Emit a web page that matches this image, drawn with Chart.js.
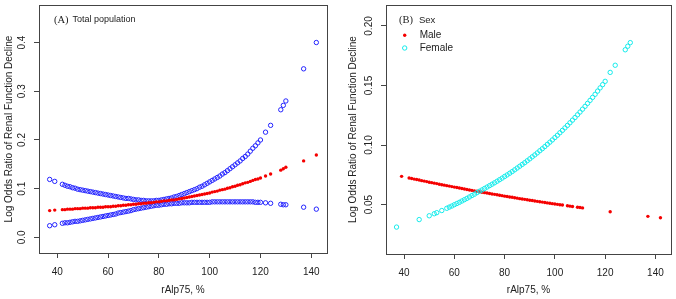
<!DOCTYPE html>
<html><head><meta charset="utf-8">
<script src="https://cdn.jsdelivr.net/npm/chart.js@4.4.1/dist/chart.umd.min.js"></script>
<style>
html,body{margin:0;padding:0;background:#fff;}
#wrap{display:flex;width:676px;height:299px;}
canvas{display:block;}
</style></head><body>
<div id="wrap"><canvas id="cA" width="338" height="299"></canvas><canvas id="cB" width="338" height="299"></canvas></div>
<script>
// ---------- data ----------
const xTicks = [40, 60, 80, 100, 120, 140];
const yTicksA = [0.0, 0.1, 0.2, 0.3, 0.4];
const yTickLabelsA = ['0.0', '0.1', '0.2', '0.3', '0.4'];
const yTicksB = [0.05, 0.10, 0.15, 0.20];
const yTickLabelsB = ['0.05', '0.10', '0.15', '0.20'];

const totalX = [37, 39,
  42, 43, 44, 45, 46, 47, 48, 49, 50, 51,
  52, 53, 54, 55, 56, 57, 58, 59, 60, 61,
  62, 63, 64, 65, 66, 67, 68, 69, 70, 71,
  72, 73, 74, 75, 76, 77, 78, 79, 80, 81,
  82, 83, 84, 85, 86, 87, 88, 89, 90, 91,
  92, 93, 94, 95, 96, 97, 98, 99, 100, 101,
  102, 103, 104, 105, 106, 107, 108, 109, 110, 111,
  112, 113, 114, 115, 116, 117, 118, 119, 120,
  122, 124, 128, 129, 130, 137, 142];
const totalEst = [0.055, 0.056,
  0.057, 0.057, 0.058, 0.058, 0.058, 0.059, 0.059, 0.059, 0.060, 0.060,
  0.060, 0.061, 0.061, 0.061, 0.062, 0.062, 0.062, 0.063, 0.063, 0.063,
  0.064, 0.064, 0.065, 0.065, 0.066, 0.066, 0.067, 0.067, 0.068, 0.068,
  0.069, 0.069, 0.070, 0.070, 0.071, 0.071, 0.072, 0.073, 0.073, 0.074,
  0.075, 0.075, 0.076, 0.077, 0.077, 0.078, 0.079, 0.080, 0.081, 0.082,
  0.083, 0.084, 0.085, 0.086, 0.087, 0.088, 0.089, 0.090, 0.091, 0.093,
  0.094, 0.095, 0.097, 0.098, 0.099, 0.101, 0.102, 0.104, 0.105, 0.107,
  0.108, 0.110, 0.112, 0.113, 0.115, 0.117, 0.119, 0.120, 0.122,
  0.126, 0.130, 0.138, 0.141, 0.144, 0.157, 0.169];
const totalLower = [0.024, 0.026,
  0.029, 0.030, 0.030, 0.031, 0.032, 0.033, 0.033, 0.034, 0.035, 0.036,
  0.037, 0.038, 0.039, 0.040, 0.041, 0.042, 0.043, 0.044, 0.045, 0.046,
  0.047, 0.048, 0.050, 0.051, 0.052, 0.053, 0.054, 0.055, 0.057, 0.058,
  0.059, 0.060, 0.061, 0.062, 0.063, 0.064, 0.065, 0.066, 0.066, 0.067,
  0.068, 0.068, 0.069, 0.069, 0.070, 0.070, 0.070, 0.071, 0.071, 0.071,
  0.071, 0.072, 0.072, 0.072, 0.072, 0.072, 0.072, 0.072, 0.072, 0.073,
  0.073, 0.073, 0.073, 0.073, 0.073, 0.073, 0.073, 0.073, 0.073, 0.073,
  0.073, 0.073, 0.073, 0.073, 0.073, 0.073, 0.072, 0.072, 0.072,
  0.071, 0.070, 0.068, 0.067, 0.067, 0.062, 0.058];
const totalUpper = [0.119, 0.115,
  0.109, 0.107, 0.105, 0.104, 0.102, 0.101, 0.099, 0.098, 0.097, 0.096,
  0.095, 0.094, 0.093, 0.092, 0.091, 0.090, 0.089, 0.088, 0.087, 0.086,
  0.085, 0.084, 0.083, 0.082, 0.081, 0.080, 0.080, 0.079, 0.078, 0.077,
  0.077, 0.076, 0.076, 0.075, 0.075, 0.075, 0.075, 0.076, 0.076, 0.077,
  0.078, 0.079, 0.080, 0.081, 0.083, 0.084, 0.086, 0.088, 0.090, 0.092,
  0.094, 0.096, 0.098, 0.100, 0.103, 0.105, 0.108, 0.111, 0.114, 0.117,
  0.120, 0.123, 0.126, 0.130, 0.133, 0.137, 0.141, 0.145, 0.149, 0.153,
  0.157, 0.162, 0.166, 0.171, 0.177, 0.183, 0.188, 0.194, 0.200,
  0.216, 0.230, 0.262, 0.271, 0.280, 0.346, 0.400];

const maleX = [39,
  42, 43, 44, 45, 46, 47, 48, 49, 50, 51,
  52, 53, 54, 55, 56, 57, 58, 59, 60, 61,
  62, 63, 64, 65, 66, 67, 68, 69, 70, 71,
  72, 73, 74, 75, 76, 77, 78, 79, 80, 81,
  82, 83, 84, 85, 86, 87, 88, 89, 90, 91,
  92, 93, 94, 95, 96, 97, 98, 99, 100, 101,
  102, 103,
  105, 106, 107, 109, 110, 111, 122, 137, 142];
const maleY = [0.0737,
  0.0723, 0.0719, 0.0714, 0.0710, 0.0706, 0.0701, 0.0697, 0.0693, 0.0688, 0.0684,
  0.0680, 0.0676, 0.0671, 0.0667, 0.0663, 0.0659, 0.0655, 0.0651, 0.0647, 0.0643,
  0.0639, 0.0635, 0.0631, 0.0627, 0.0623, 0.0619, 0.0615, 0.0612, 0.0608, 0.0604,
  0.0600, 0.0597, 0.0593, 0.0589, 0.0586, 0.0582, 0.0578, 0.0575, 0.0571, 0.0568,
  0.0564, 0.0561, 0.0557, 0.0554, 0.0550, 0.0547, 0.0544, 0.0540, 0.0537, 0.0534,
  0.0530, 0.0527, 0.0524, 0.0521, 0.0517, 0.0514, 0.0511, 0.0508, 0.0505, 0.0502,
  0.0499, 0.0496,
  0.0490, 0.0487, 0.0484, 0.0478, 0.0475, 0.0472, 0.0440, 0.0401, 0.0389];

const femaleX = [37, 46, 50, 52, 53, 55, 57, 58, 59,
  60, 61, 62, 63, 64, 65, 66, 67, 68, 69,
  70, 71, 72, 73, 74, 75, 76, 77, 78, 79,
  80, 81, 82, 83, 84, 85, 86, 87, 88, 89,
  90, 91, 92, 93, 94, 95, 96, 97, 98, 99,
  100, 101, 102, 103, 104, 105, 106, 107, 108, 109,
  110, 111, 112, 113, 114, 115, 116, 117, 118, 119,
  120, 122, 124, 128, 129, 130];
const femaleY = [0.0311, 0.0374, 0.0406, 0.0423, 0.0432, 0.0450, 0.0469, 0.0479, 0.0488,
  0.0499, 0.0509, 0.0519, 0.0530, 0.0541, 0.0552, 0.0564, 0.0576, 0.0587, 0.0600,
  0.0612, 0.0623, 0.0635, 0.0647, 0.0659, 0.0671, 0.0683, 0.0696, 0.0709, 0.0722,
  0.0736, 0.0749, 0.0763, 0.0777, 0.0792, 0.0807, 0.0822, 0.0837, 0.0852, 0.0868,
  0.0884, 0.0901, 0.0917, 0.0934, 0.0952, 0.0969, 0.0987, 0.1006, 0.1024, 0.1043,
  0.1063, 0.1082, 0.1103, 0.1123, 0.1144, 0.1165, 0.1187, 0.1209, 0.1231, 0.1254,
  0.1277, 0.1301, 0.1325, 0.1350, 0.1375, 0.1400, 0.1426, 0.1453, 0.1480, 0.1507,
  0.1535, 0.1610, 0.1670, 0.1800, 0.1830, 0.1860];

// ---------- styling ----------
const SANS = '"Liberation Sans", Arial, Helvetica, sans-serif';
const SERIF = '"Liberation Serif", "Times New Roman", serif';
const INK = '#222';
const AXIS = '#444';
const BLUE = 'rgb(35,35,255)';
const RED = 'rgb(245,0,0)';
const CYAN = 'rgb(20,235,235)';

const pts = (xs, ys) => xs.map((x, i) => ({ x: x, y: ys[i] }));

const boxPlugin = {
  id: 'box',
  afterDraw(chart) {
    const a = chart.chartArea, ctx = chart.ctx;
    ctx.save();
    ctx.strokeStyle = AXIS; ctx.lineWidth = 1;
    ctx.strokeRect(Math.round(a.left) + 0.5, Math.round(a.top) + 0.5,
      Math.round(a.right - a.left), Math.round(a.bottom - a.top));
    ctx.restore();
  }
};

const rotYPlugin = {
  id: 'rotY',
  afterDraw(chart, args, opts) {
    const s = chart.scales.y, ctx = chart.ctx;
    ctx.save();
    ctx.font = '10px ' + SANS;
    ctx.fillStyle = INK;
    ctx.textAlign = 'center'; ctx.textBaseline = 'middle';
    opts.values.forEach((v, i) => {
      const y = s.getPixelForValue(v);
      ctx.save();
      ctx.translate(opts.x, y);
      ctx.rotate(-Math.PI / 2);
      ctx.fillText(opts.labels[i], 0, 0);
      ctx.restore();
    });
    ctx.restore();
  }
};

const notePlugin = {
  id: 'note',
  afterDraw(chart, args, opts) {
    const ctx = chart.ctx;
    ctx.save();
    ctx.fillStyle = INK;
    ctx.textBaseline = 'middle'; ctx.textAlign = 'left';
    (opts.items || []).forEach(it => {
      ctx.font = it.font;
      ctx.fillText(it.text, it.x, it.y);
    });
    (opts.legend || []).forEach(it => {
      const ds = chart.data.datasets[it.dataset];
      ctx.beginPath();
      ctx.arc(it.x, it.y, ds.pointRadius, 0, Math.PI * 2);
      if (it.filled) { ctx.fillStyle = ds.pointBackgroundColor; ctx.fill(); }
      else { ctx.strokeStyle = ds.pointBorderColor; ctx.lineWidth = ds.pointBorderWidth; ctx.stroke(); }
      ctx.fillStyle = INK;
      ctx.font = '10px ' + SANS;
      ctx.fillText(ds.label, it.tx, it.y);
    });
    ctx.restore();
  }
};

function makeScales(cfg) {
  return {
    x: {
      type: 'linear', min: cfg.xMin, max: cfg.xMax,
      afterBuildTicks: s => { s.ticks = xTicks.map(v => ({ value: v })); },
      afterFit: s => { s.height = cfg.xAxisH; },
      grid: { display: true, drawOnChartArea: false, drawTicks: true, tickLength: 5, tickWidth: 1, tickColor: AXIS },
      border: { display: true, color: AXIS, width: 1 },
      ticks: { font: { family: SANS, size: 10 }, color: INK, padding: 8, maxRotation: 0, minRotation: 0, autoSkip: false },
      title: { display: true, text: 'rAlp75, %', font: { family: SANS, size: 10 }, color: INK, padding: { top: 0, bottom: 3 } }
    },
    y: {
      type: 'linear', min: cfg.yMin, max: cfg.yMax,
      afterBuildTicks: s => { s.ticks = cfg.yTicks.map(v => ({ value: v })); },
      afterFit: s => { s.width = cfg.yAxisW; },
      grid: { display: true, drawOnChartArea: false, drawTicks: true, tickLength: 5, tickWidth: 1, tickColor: AXIS },
      border: { display: true, color: AXIS, width: 1 },
      ticks: { display: false },
      title: { display: true, text: 'Log Odds Ratio of Renal Function Decline', font: { family: SANS, size: 10 }, color: INK, padding: { top: cfg.yTitlePad, bottom: 0 } }
    }
  };
}

// ---------- panel A ----------
new Chart(document.getElementById('cA'), {
  type: 'scatter',
  data: {
    datasets: [
      { label: 'Estimate', data: pts(totalX, totalEst), pointRadius: 1.7, pointBorderWidth: 0,
        pointBackgroundColor: RED, pointBorderColor: RED, showLine: false },
      { label: 'Upper', data: pts(totalX, totalUpper), pointRadius: 2.2, pointBorderWidth: 1,
        pointBackgroundColor: 'rgba(0,0,0,0)', pointBorderColor: BLUE, showLine: false },
      { label: 'Lower', data: pts(totalX, totalLower), pointRadius: 2.2, pointBorderWidth: 1,
        pointBackgroundColor: 'rgba(0,0,0,0)', pointBorderColor: BLUE, showLine: false }
    ]
  },
  options: {
    responsive: false, animation: false, events: [],
    layout: { padding: { left: 0, right: 11, top: 1, bottom: 0 } },
    scales: makeScales({ xMin: 32.8, xMax: 146.2, yMin: -0.032, yMax: 0.477, yTicks: yTicksA,
      xAxisH: 46, yAxisW: 39, yTitlePad: 3 }),
    plugins: {
      legend: { display: false }, tooltip: { enabled: false },
      rotY: { x: 22, values: yTicksA, labels: yTickLabelsA },
      note: { items: [
        { text: '(A)', x: 54, y: 20, font: '10.5px ' + SERIF },
        { text: 'Total population', x: 72.5, y: 20, font: '9px ' + SANS }
      ] }
    }
  },
  plugins: [boxPlugin, rotYPlugin, notePlugin]
});

// ---------- panel B ----------
new Chart(document.getElementById('cB'), {
  type: 'scatter',
  data: {
    datasets: [
      { label: 'Female', data: pts(femaleX, femaleY), pointRadius: 2.2, pointBorderWidth: 1,
        pointBackgroundColor: 'rgba(0,0,0,0)', pointBorderColor: CYAN, showLine: false },
      { label: 'Male', data: pts(maleX, maleY), pointRadius: 1.7, pointBorderWidth: 0,
        pointBackgroundColor: RED, pointBorderColor: RED, showLine: false }
    ]
  },
  options: {
    responsive: false, animation: false, events: [],
    layout: { padding: { left: 0, right: 3, top: 1, bottom: 0 } },
    scales: makeScales({ xMin: 32.8, xMax: 146.2, yMin: 0.0085, yMax: 0.2176, yTicks: yTicksB,
      xAxisH: 45, yAxisW: 48, yTitlePad: 9 }),
    plugins: {
      legend: { display: false }, tooltip: { enabled: false },
      rotY: { x: 31.7, values: yTicksB, labels: yTickLabelsB },
      note: {
        items: [
          { text: '(B)', x: 61, y: 20, font: '10.5px ' + SERIF },
          { text: 'Sex', x: 81, y: 20, font: '9.5px ' + SANS }
        ],
        legend: [
          { dataset: 1, x: 66.7, y: 35.3, tx: 81.7, filled: true },
          { dataset: 0, x: 66.7, y: 48, tx: 81.7, filled: false }
        ]
      }
    }
  },
  plugins: [boxPlugin, rotYPlugin, notePlugin]
});
</script></body></html>
